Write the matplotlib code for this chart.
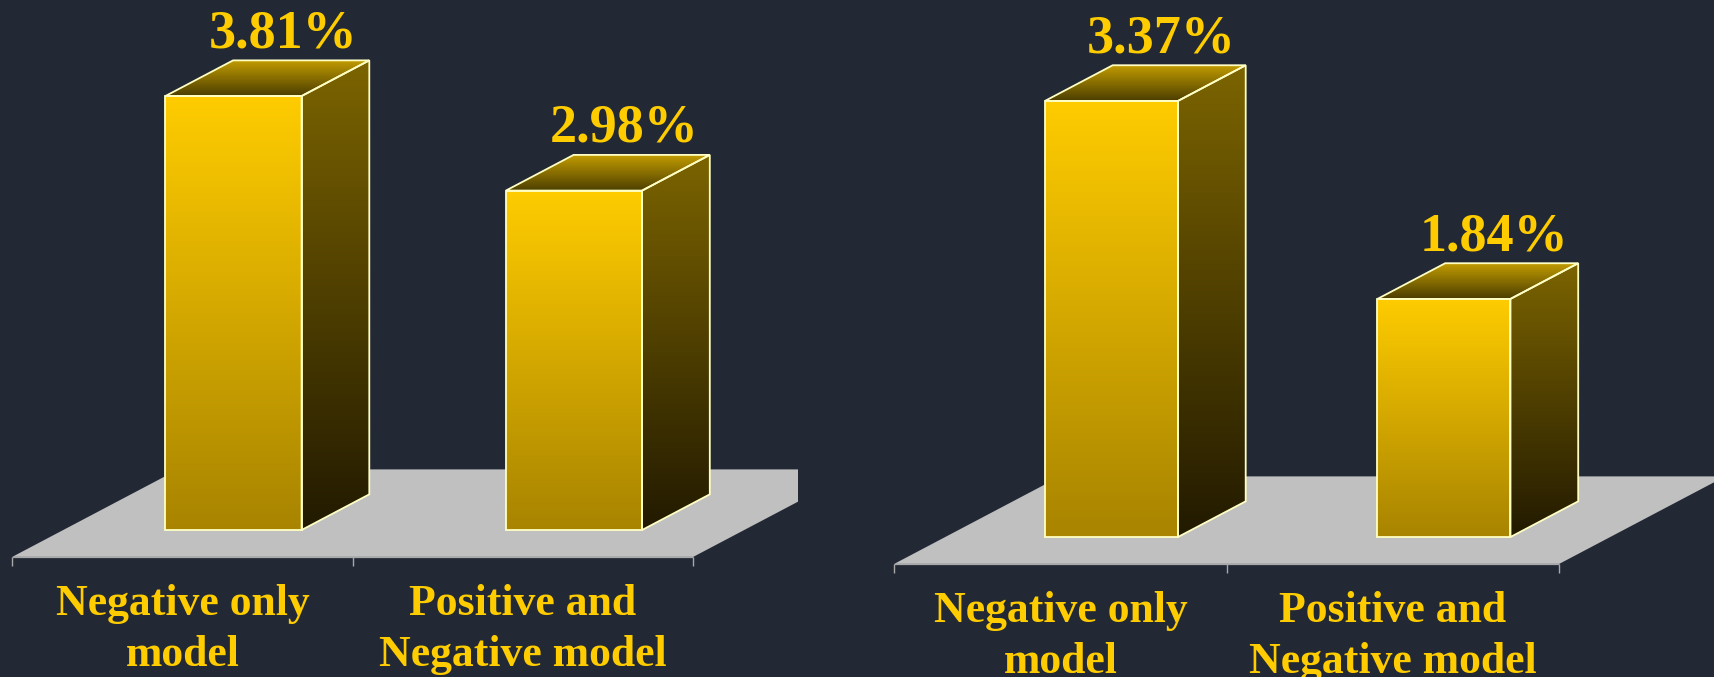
import numpy as np
import matplotlib
matplotlib.use("Agg")
import matplotlib.pyplot as plt
from matplotlib.patches import Polygon
from matplotlib.colors import to_rgb

# ---------------- data ----------------
categories = ["Negative only\nmodel", "Positive and\nNegative model"]
left_values = [3.81, 2.98]
right_values = [3.37, 1.84]
left_labels = ["3.81%", "2.98%"]
right_labels = ["3.37%", "1.84%"]

# ---------------- style ----------------
BG = "#222935"
GOLD = "#FFCC00"
EDGE = "#FFFFC4"
FLOOR = "#C0C0C0"
FLOOR_LINE = "#A8A8A8"
FONT = "Liberation Serif"

W, H = 1715, 677
fig = plt.figure(figsize=(W / 100, H / 100), dpi=100, facecolor=BG)

SLOPE = 0.527          # vertical / horizontal for depth direction
BAR_DEPTH = 67.7       # px (horizontal) of bar depth
FLOOR_FRONT = -51.0    # px depth offset of floor front edge from bar front plane
FLOOR_BACK = 115.0     # px depth offset of floor back edge
TICK_LEN = 9.5
BAR_W = 0.4


def grad_fill(ax, verts, top_color, bottom_color, zorder):
    poly = Polygon(verts, closed=True, facecolor="none", edgecolor="none")
    ax.add_patch(poly)
    xs = [v[0] for v in verts]
    ys = [v[1] for v in verts]
    n = 256
    t = np.linspace(0, 1, n)[:, None]
    top = np.array(to_rgb(top_color))[None, :]
    bot = np.array(to_rgb(bottom_color))[None, :]
    c = (1 - t) * top + t * bot
    img = np.repeat(c[:, None, :], 2, axis=1)
    im = ax.imshow(img, extent=(min(xs), max(xs), min(ys), max(ys)),
                   origin="upper", aspect="auto", interpolation="bilinear",
                   zorder=zorder)
    im.set_clip_path(poly)


def panel(px_left, px_right, x0_px, unit_px, base_px, yunit_px, values, labels):
    ax = fig.add_axes([px_left / W, 0, (px_right - px_left) / W, 1])
    ax.set_facecolor(BG)
    ax.axis("off")
    xlim = ((px_left - x0_px) / unit_px, (px_right - x0_px) / unit_px)
    ylim = ((base_px - H) / yunit_px, base_px / yunit_px)

    def d(px):  # depth offset (horizontal px) -> data (dx, dy)
        return px / unit_px, px * SLOPE / yunit_px

    n = len(values)
    # floor
    fx0, fy0 = d(FLOOR_FRONT)
    fx1, fy1 = d(FLOOR_BACK)
    left_edge, right_edge = -0.5, n - 0.5
    floor = Polygon([(left_edge + fx0, fy0), (right_edge + fx0, fy0),
                     (right_edge + fx1, fy1), (left_edge + fx1, fy1)],
                    closed=True, facecolor=FLOOR, edgecolor="none", zorder=1)
    ax.add_patch(floor)
    ax.plot([left_edge + fx0, right_edge + fx0], [fy0, fy0],
            color=FLOOR_LINE, lw=0.9, zorder=2, solid_capstyle="butt")
    tdy = TICK_LEN / yunit_px
    for tk in np.arange(left_edge, right_edge + 0.01, 1.0):
        ax.plot([tk + fx0, tk + fx0], [fy0, fy0 - tdy], color=FLOOR_LINE,
                lw=1.0, zorder=2, solid_capstyle="butt")

    # bars
    bdx, bdy = d(BAR_DEPTH)
    for i, v in enumerate(values):
        xl, xr = i - BAR_W / 2, i + BAR_W / 2
        front = [(xl, 0), (xr, 0), (xr, v), (xl, v)]
        side = [(xr, 0), (xr + bdx, bdy), (xr + bdx, v + bdy), (xr, v)]
        top = [(xl, v), (xr, v), (xr + bdx, v + bdy), (xl + bdx, v + bdy)]
        grad_fill(ax, front, "#FFCC00", "#A88400", 3)
        grad_fill(ax, side, "#7C6400", "#221A00", 3)
        grad_fill(ax, top, "#C29C00", "#4C3E00", 3)
        for verts in (front, side, top):
            ax.add_patch(Polygon(verts, closed=True, facecolor="none",
                                 edgecolor=EDGE, lw=1.3, joinstyle="miter",
                                 zorder=4))
        ax.annotate(labels[i], xy=(i, v), xytext=(50, BAR_DEPTH * SLOPE + 13),
                    textcoords="offset pixels", ha="center", va="baseline",
                    color=GOLD, fontsize=39, fontweight="bold", family=FONT,
                    zorder=5, annotation_clip=False)
        ax.annotate(categories[i], xy=(i + fx0, fy0),
                    xytext=(0, -TICK_LEN - 18), textcoords="offset pixels",
                    ha="center", va="top", color=GOLD, fontsize=31.5,
                    fontweight="bold", family=FONT, linespacing=1.34,
                    zorder=5, annotation_clip=False)

    ax.set_xlim(*xlim)
    ax.set_ylim(*ylim)
    return ax


panel(0, 797.7, 233.5, 340.5, 530, 113.9, left_values, left_labels)
panel(800, 1715, 1111.5, 332.5, 537, 129.4, right_values, right_labels)

fig.savefig("out.png", dpi=100, facecolor=BG)
